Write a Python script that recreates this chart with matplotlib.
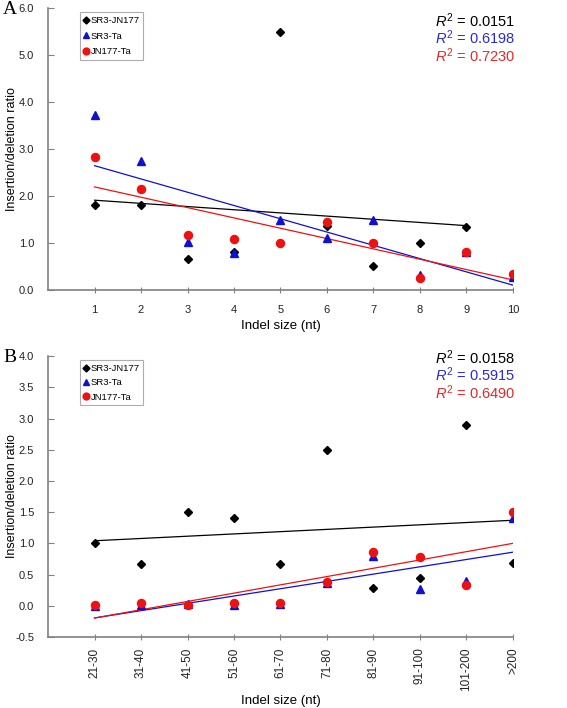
import matplotlib
matplotlib.use("Agg")
import matplotlib.pyplot as plt
import numpy as np

plt.rcParams['font.family'] = ['Liberation Sans', 'DejaVu Sans']
plt.rcParams['mathtext.fontset'] = 'custom'
plt.rcParams['mathtext.rm'] = 'Liberation Sans'
plt.rcParams['mathtext.it'] = 'Liberation Sans:italic'

# panel A data (indel size 1-10 nt)
sizes_a = ['1', '2', '3', '4', '5', '6', '7', '8', '9', '10']
sr3_jn177_a = [1.80, 1.80, 0.67, 0.80, 5.50, 1.36, 0.50, 1.00, 1.33]
sr3_ta_a = [3.73, 2.75, 1.03, 0.78, 1.48, 1.10, 1.48, 0.32, 0.80, 0.27]
jn177_ta_a = [2.83, 2.14, 1.17, 1.08, 1.00, 1.44, 1.00, 0.25, 0.80, 0.33]
r2_a = ['0.0151', '0.6198', '0.7230']

# panel B data (indel size classes)
sizes_b = ['21-30', '31-40', '41-50', '51-60', '61-70', '71-80', '81-90',
           '91-100', '101-200', '>200']
sr3_jn177_b = [1.00, 0.67, 1.50, 1.40, 0.67, 2.50, 0.29, 0.44, 2.90, 0.69]
sr3_ta_b = [-0.01, 0.01, 0.03, 0.02, 0.03, 0.37, 0.80, 0.27, 0.39, 1.41]
jn177_ta_b = [0.02, 0.04, 0.02, 0.04, 0.05, 0.38, 0.86, 0.78, 0.33, 1.50]
r2_b = ['0.0158', '0.5915', '0.6490']

names = ['SR3-JN177', 'SR3-Ta', 'JN177-Ta']
colors = ['black', '#1010d0', '#ee1111']
text_colors = ['black', '#2a2ad8', '#e02a2a']
markers = ['D', '^', 'o']
msizes = [4.2, 5.5, 5.8]
axis_gray = '#808080'


def draw_panel(ax, labels, series, r2, ylim, yticks, rotate, r2_top,
               leg_space, xlab_y):
    for vals, name, c, m, ms in zip(series, names, colors, markers, msizes):
        x = np.arange(1, len(vals) + 1)
        ax.plot(x, vals, linestyle='none', marker=m, color=c, ms=ms,
                label=name, zorder=3)
        # linear trend line over the points of the series
        k, b = np.polyfit(x, vals, 1)
        ax.plot([x[0], x[-1]], [k * x[0] + b, k * x[-1] + b], color=c,
                lw=0.9, zorder=2)

    ax.set_xlim(0, 10)
    ax.set_ylim(*ylim)
    ax.set_yticks(yticks)
    ax.set_yticklabels([f'{t:.1f}' for t in yticks])
    ax.set_xticks(np.arange(1, 11))
    ax.set_xticklabels(labels, rotation=90 if rotate else 0)
    for s in ['top', 'right']:
        ax.spines[s].set_visible(False)
    for s in ['left', 'bottom']:
        ax.spines[s].set_color(axis_gray)
        ax.spines[s].set_linewidth(1.2)
    ax.tick_params(axis='y', direction='in', length=4, color=axis_gray,
                   labelsize=8, pad=10, labelcolor='#222222')
    ax.tick_params(axis='x', direction='inout', length=5, color=axis_gray,
                   labelsize=8.5 if rotate else 8, pad=5 if rotate else 8,
                   labelcolor='#222222')

    ax.set_ylabel('Insertion/deletion ratio', fontsize=9)
    ax.yaxis.set_label_coords(-0.064, 0.5)
    ax.set_xlabel('Indel size (nt)', fontsize=9.5)
    ax.xaxis.set_label_coords(0.5, xlab_y)

    leg = ax.legend(loc='upper left', bbox_to_anchor=(0.068, 0.985),
                    fontsize=6.8, handlelength=0.5, handletextpad=0.25,
                    borderpad=0.4, labelspacing=leg_space, fancybox=False,
                    markerscale=0.85, borderaxespad=0)
    leg.get_frame().set_edgecolor('#999999')
    leg.get_frame().set_linewidth(0.8)

    for i, (val, tc) in enumerate(zip(r2, text_colors)):
        ax.text(1.005, r2_top - i * 0.062, f'$R^2$ = {val}', color=tc,
                fontsize=10.5, ha='right', va='center',
                transform=ax.transAxes)


fig = plt.figure(figsize=(5.67, 7.08), dpi=100)
ax_a = fig.add_axes([0.0847, 0.5904, 0.820, 0.3983])
ax_b = fig.add_axes([0.0847, 0.1003, 0.820, 0.3967])

draw_panel(ax_a, sizes_a, [sr3_jn177_a, sr3_ta_a, jn177_ta_a], r2_a,
           (0, 6), np.arange(0, 6.1, 1.0), False, 0.955, 0.7, -0.106)
draw_panel(ax_b, sizes_b, [sr3_jn177_b, sr3_ta_b, jn177_ta_b], r2_b,
           (-0.5, 4), np.arange(-0.5, 4.1, 0.5), True, 0.995, 0.55, -0.208)

fig.text(3 / 567, 1 - 9 / 708, 'A', fontsize=14, family='Liberation Serif',
         ha='left', va='center')
fig.text(3 / 567, 1 - 358 / 708, 'B', fontsize=14, family='Liberation Serif',
         ha='left', va='center')

fig.savefig('out.png', dpi=100)
plt.close(fig)
